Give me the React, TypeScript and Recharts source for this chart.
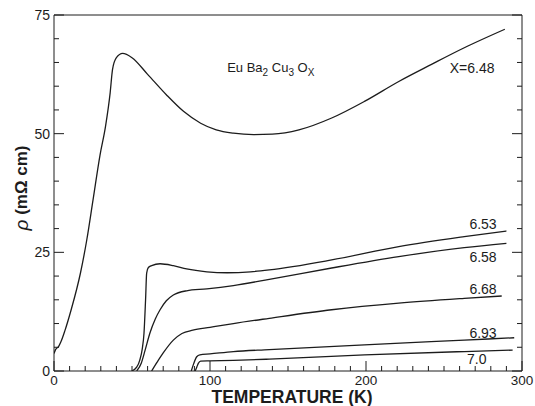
import { Line, LineChart, ReferenceDot, XAxis, YAxis } from 'recharts';

// temperature (K) and resistivity (mOhm cm) for each oxygen content x
const t648 = [0, 1, 3, 4.5, 7, 11, 17, 21, 25, 29.5, 33, 36, 37.5, 40, 44, 50, 60, 72, 83, 94, 104, 115, 128, 140, 157, 178, 199, 221, 242, 263, 289];
const r648 = [3.7, 4.5, 5.2, 6.2, 8.5, 12.9, 20.7, 27.6, 36, 45.5, 51.5, 58.6, 63.5, 66, 66.9, 66, 62.5, 58.2, 54.7, 52.2, 50.8, 50.1, 49.8, 49.9, 50.8, 53.3, 56.8, 61, 64.6, 68.1, 72];

const t653 = [49.8, 53, 55, 56.5, 57.7, 58.7, 59.4, 60.5, 62.6, 68, 76.5, 85, 98, 111, 126, 138, 178, 221, 263, 290];
const r653 = [0, 0.8, 2.3, 4.5, 8, 15, 20.6, 21.8, 22.2, 22.6, 22.2, 21.5, 20.9, 20.7, 20.9, 21.3, 23.4, 26.2, 28.3, 29.5];

const t658 = [53, 56, 58.5, 61.5, 65, 68, 72, 76.5, 85, 98, 115, 138, 178, 221, 263, 290];
const r658 = [0, 1.7, 4.5, 8, 11, 12.9, 14.8, 16, 16.9, 17.3, 18, 19.3, 21.7, 24.1, 26, 26.9];

const t668 = [62.6, 66, 70, 76.5, 82, 89, 100, 115, 138, 178, 221, 263, 287];
const r668 = [0, 1.8, 3.8, 6.5, 7.9, 8.6, 9.2, 10, 11.1, 12.9, 14.3, 15.3, 15.8];

const t693 = [88, 89.5, 91.5, 93.5, 100, 115, 138, 199, 263, 295];
const r693 = [0, 1.5, 3, 3.4, 3.6, 4.1, 4.5, 5.5, 6.5, 7];

const t70 = [90.5, 91.5, 92.5, 94, 100, 115, 138, 199, 263, 294];
const r70 = [0, 0.8, 1.6, 2.1, 2.15, 2.25, 2.5, 3.4, 4.1, 4.4];

const xTicks = [0, 10, 20, 30, 40, 50, 60, 70, 80, 90, 100, 110, 120, 130, 140, 150, 160, 170, 180, 190, 200, 210, 220, 230, 240, 250, 260, 270, 280, 290, 300];
const yTicks = [0, 5, 10, 15, 20, 25, 30, 35, 40, 45, 50, 55, 60, 65, 70, 75];

const curveLabels = ['X=6.48', '6.53', '6.58', '6.68', '6.93', '7.0'];
const labelT = [268, 275, 275, 275, 275, 271];
const labelR = [63.9, 31, 24, 17.3, 8, 2.5];

const zip = (ts: number[], rs: number[]) => ts.map((t, i) => ({ t, r: rs[i] }));
const series = [zip(t648, r648), zip(t653, r653), zip(t658, r658), zip(t668, r668), zip(t693, r693), zip(t70, r70)];

const font = '"Liberation Sans", Arial, Helvetica, sans-serif';
const ink = '#1c1c1c';

const XTick = (props: any) => {
  const { x, y, payload, top } = props;
  const major = payload.value % 100 === 0;
  const len = major ? 10 : 5;
  const dir = top ? 1 : -1;
  return (
    <g>
      <line x1={x} y1={y} x2={x} y2={y + dir * len} stroke={ink} strokeWidth={1} />
      {!top && major && (
        <text x={x} y={y + 14} textAnchor="middle" fontSize={13.5} fontFamily={font} fill={ink}>
          {payload.value}
        </text>
      )}
    </g>
  );
};

const YTick = (props: any) => {
  const { x, y, payload, right } = props;
  const major = payload.value % 25 === 0;
  const len = major ? 10 : 5;
  const dir = right ? -1 : 1;
  return (
    <g>
      <line x1={x} y1={y} x2={x + dir * len} y2={y} stroke={ink} strokeWidth={1} />
      {!right && major && (
        <text x={x - 4} y={y + 5} textAnchor="end" fontSize={14} fontFamily={font} fill={ink}>
          {payload.value}
        </text>
      )}
    </g>
  );
};

export default function App() {
  return (
    <div style={{ position: 'absolute', left: 0, top: 0, background: '#fff' }}>
      <LineChart width={535} height={406} margin={{ top: 0, right: 0, bottom: 0, left: 0 }}>
        <XAxis
          xAxisId="b"
          dataKey="t"
          type="number"
          domain={[0, 300]}
          ticks={xTicks}
          interval={0}
          height={35}
          tickSize={0}
          tickMargin={0}
          tick={<XTick />}
          stroke={ink}
          allowDataOverflow
          label={{
            content: (p: any) => (
              <text
                x={p.viewBox.x + p.viewBox.width / 2 + 4}
                y={p.viewBox.y + 32}
                textAnchor="middle"
                fontSize={17.5}
                fontWeight="bold"
                fontFamily={font}
                fill={ink}
              >
                TEMPERATURE (K)
              </text>
            ),
          }}
        />
        <XAxis
          xAxisId="top"
          orientation="top"
          type="number"
          domain={[0, 300]}
          ticks={xTicks}
          interval={0}
          height={15}
          tickSize={0}
          tickMargin={0}
          tick={<XTick top />}
          stroke={ink}
          allowDataOverflow
        />
        <YAxis
          yAxisId="l"
          type="number"
          domain={[0, 75]}
          ticks={yTicks}
          interval={0}
          width={54}
          tickSize={0}
          tickMargin={0}
          tick={<YTick />}
          stroke={ink}
          allowDataOverflow
          label={{
            content: (p: any) => {
              const cx = p.viewBox.x + 21;
              const cy = p.viewBox.y + p.viewBox.height / 2 - 5;
              return (
                <text
                  x={cx}
                  y={cy}
                  transform={`rotate(-90 ${cx} ${cy})`}
                  textAnchor="middle"
                  dominantBaseline="central"
                  fontSize={17}
                  fontWeight="bold"
                  fontFamily={font}
                  fill={ink}
                >
                  <tspan fontStyle="italic" fontWeight="normal" fontSize={19}>ρ</tspan> (mΩ cm)
                </text>
              );
            },
          }}
        />
        <YAxis
          yAxisId="r"
          orientation="right"
          type="number"
          domain={[0, 75]}
          ticks={yTicks}
          interval={0}
          width={13}
          tickSize={0}
          tickMargin={0}
          tick={<YTick right />}
          stroke={ink}
          allowDataOverflow
        />
        {series.map((d, i) => (
          <Line
            key={curveLabels[i]}
            data={d}
            xAxisId="b"
            yAxisId="l"
            dataKey="r"
            type="monotone"
            stroke={ink}
            strokeWidth={1.3}
            dot={false}
            isAnimationActive={false}
          />
        ))}
        {curveLabels.map((s, i) => (
          <ReferenceDot
            key={s}
            xAxisId="b"
            yAxisId="l"
            x={labelT[i]}
            y={labelR[i]}
            r={0}
            shape={(p: any) => (
              <text x={p.cx} y={p.cy + 5} textAnchor="middle" fontSize={14} fontFamily={font} fill={ink}>
                {s}
              </text>
            )}
          />
        ))}
        <ReferenceDot
          xAxisId="b"
          yAxisId="l"
          x={111}
          y={64}
          r={0}
          shape={(p: any) => (
            <text x={p.cx} y={p.cy + 5} fontSize={13} fontFamily={font} fill={ink}>
              Eu Ba<tspan fontSize={10} dy={4}>2</tspan>
              <tspan dy={-4}> Cu</tspan>
              <tspan fontSize={10} dy={4}>3</tspan>
              <tspan dy={-4}> O</tspan>
              <tspan fontSize={10} dy={4}>X</tspan>
            </text>
          )}
        />
      </LineChart>
    </div>
  );
}
